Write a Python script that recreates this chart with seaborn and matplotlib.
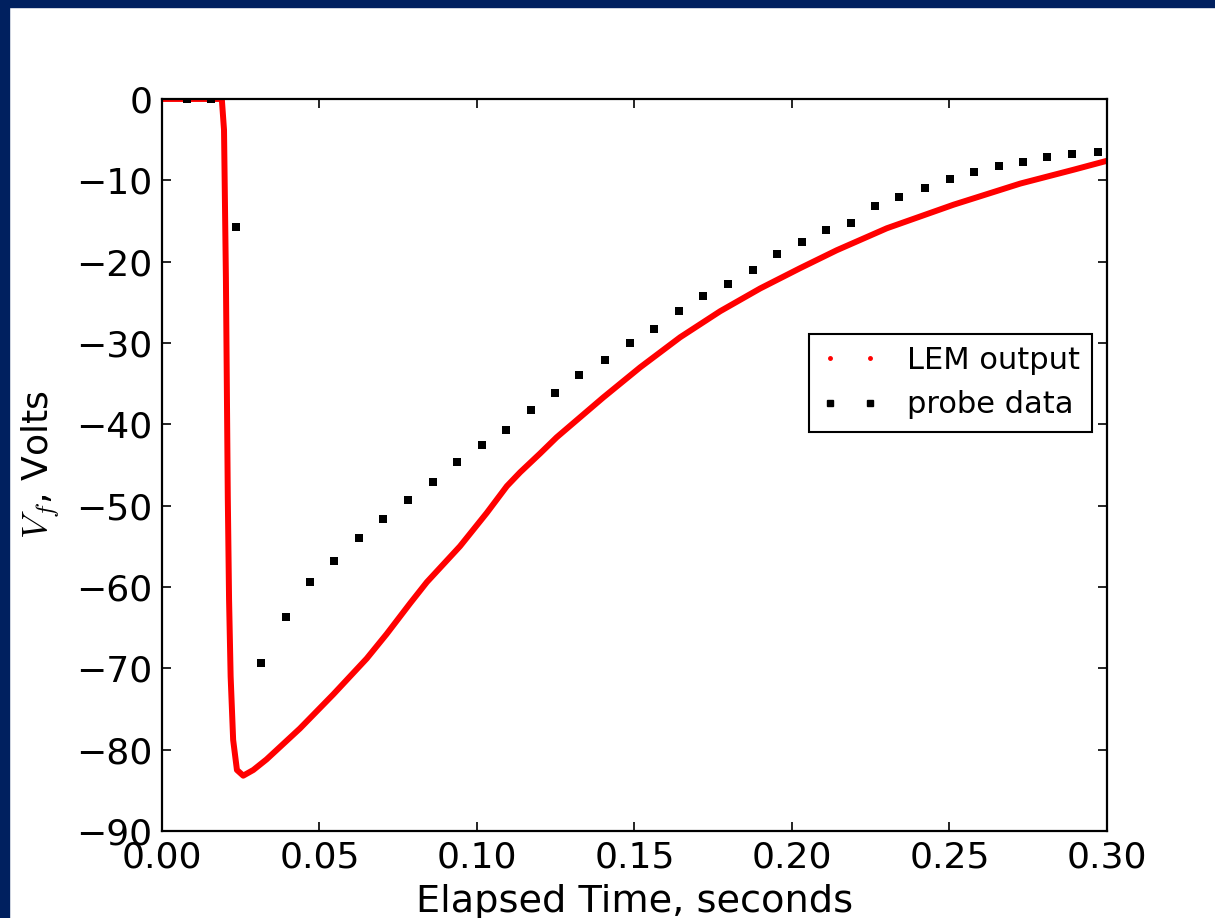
import numpy as np
import pandas as pd
import matplotlib.pyplot as plt
import seaborn as sns
from matplotlib.lines import Line2D
from matplotlib.patches import Rectangle

## data

# LEM model output (dense red curve)
lem_time = [0.0000, 0.0190, 0.0197, 0.0203, 0.0209, 0.0213, 0.0218, 0.0226,
            0.0238, 0.0258, 0.0290, 0.0332, 0.0438, 0.0544, 0.0650,
            0.0713, 0.0788, 0.0841, 0.0946, 0.1031, 0.1095, 0.1137, 0.1200,
            0.1253, 0.1401, 0.1518, 0.1645, 0.1772, 0.1899, 0.2026, 0.2142,
            0.2301, 0.2513, 0.2725, 0.2894, 0.3000]
lem_volts = [0.0, 0.0, -3.8, -22.0, -49.0, -61.5, -71.0, -78.8,
             -82.5, -83.2, -82.5, -81.2, -77.4, -73.2, -68.8,
             -65.8, -62.0, -59.4, -55.0, -50.9, -47.6, -45.9, -43.6,
             -41.6, -36.7, -33.0, -29.3, -26.1, -23.3, -20.8, -18.6,
             -15.9, -13.0, -10.4, -8.7, -7.6]

# probe measurements (black squares)
probe_time = [0.0078, 0.0155, 0.0234, 0.0314, 0.0393, 0.0469, 0.0547, 0.0625,
              0.0702, 0.0780, 0.0861, 0.0938, 0.1016, 0.1093, 0.1170, 0.1248,
              0.1325, 0.1407, 0.1485, 0.1563, 0.1640, 0.1718, 0.1796, 0.1877,
              0.1953, 0.2032, 0.2109, 0.2186, 0.2265, 0.2341, 0.2423, 0.2502,
              0.2578, 0.2656, 0.2733, 0.2811, 0.2888, 0.2971]
probe_volts = [0.0, 0.0, -15.7, -69.4, -63.7, -59.4, -56.8, -54.0,
               -51.6, -49.3, -47.1, -44.6, -42.5, -40.7, -38.2, -36.2,
               -34.0, -32.1, -30.0, -28.3, -26.1, -24.2, -22.7, -21.0,
               -19.1, -17.6, -16.1, -15.2, -13.2, -12.0, -10.9, -9.8,
               -9.0, -8.2, -7.7, -7.1, -6.8, -6.5]

x_ticks = [0.00, 0.05, 0.10, 0.15, 0.20, 0.25, 0.30]
y_ticks = [0, -10, -20, -30, -40, -50, -60, -70, -80, -90]

lem = pd.DataFrame({"time": lem_time, "volts": lem_volts})
probe = pd.DataFrame({"time": probe_time, "volts": probe_volts})

## style - old matplotlib look
sns.set_theme(style="ticks", rc={
    "axes.edgecolor": "black",
    "axes.linewidth": 1.6,
    "axes.labelcolor": "black",
    "text.color": "black",
    "xtick.color": "black",
    "ytick.color": "black",
})
plt.rcParams["font.family"] = ["DejaVu Sans"]
plt.rcParams["mathtext.fontset"] = "cm"

fig, ax = plt.subplots(figsize=(12.15, 9.18), dpi=100)
fig.subplots_adjust(left=0.1333, right=0.9111, top=0.8922, bottom=0.0948)

# navy slide border (top and left edges only)
fig.patches.append(Rectangle((0, 1 - 7 / 918), 1, 7 / 918, transform=fig.transFigure,
                             color="#00205f", zorder=0))
fig.patches.append(Rectangle((0, 0), 9 / 1215, 1, transform=fig.transFigure,
                             color="#00205f", zorder=0))

sns.lineplot(data=lem, x="time", y="volts", color="red", linewidth=4.3,
             sort=False, estimator=None, ax=ax, zorder=2)
sns.scatterplot(data=probe, x="time", y="volts", marker="s", s=30, color="black",
                edgecolor="black", linewidth=0, ax=ax, zorder=3)

ax.set_xlim(0, 0.30)
ax.set_ylim(-90, 0)
ax.set_xticks(x_ticks)
ax.set_yticks(y_ticks)
ax.tick_params(direction="in", top=True, right=True, length=6.3, width=1.2,
               labelsize=26, pad=7)

ax.set_xlabel("Elapsed Time, seconds", fontsize=27.5, labelpad=7)
ax.set_ylabel("$V_f$, Volts", fontsize=26, labelpad=10)

# legend with dotted handles like the original
handles = [Line2D([], [], ls="none", marker=".", color="red", markersize=5),
           Line2D([], [], ls="none", marker="s", color="black", markersize=5)]
leg = ax.legend(handles, ["LEM output", "probe data"], numpoints=2,
                loc="upper left", bbox_to_anchor=(0.6847, 0.679), borderaxespad=0,
                fontsize=22, frameon=True, fancybox=False, framealpha=1,
                edgecolor="black", handlelength=1.9, handletextpad=0.9,
                labelspacing=0.5, borderpad=0.4)
leg.get_frame().set_linewidth(1.5)

plt.savefig("out.png", dpi=100)
plt.close()
